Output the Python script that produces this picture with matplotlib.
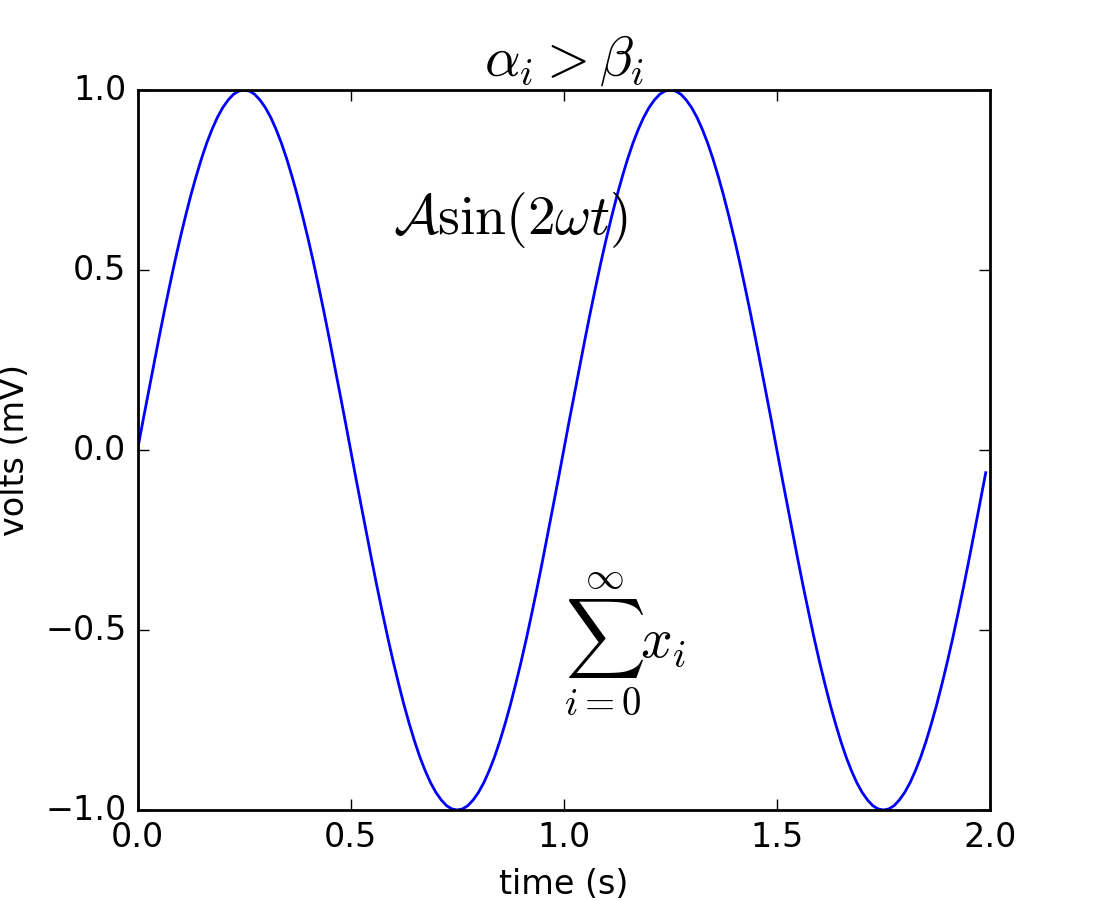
import numpy as np
import matplotlib
matplotlib.use("Agg")
import matplotlib.pyplot as plt

plt.style.use("classic")

# time samples (s) and voltage readings (mV)
time_s = [i * 0.0125 for i in range(160)] + [1.99]
one_period = [
    0.000, 0.079, 0.156, 0.233, 0.309, 0.383, 0.454, 0.523, 0.588, 0.649,
    0.707, 0.760, 0.809, 0.853, 0.891, 0.924, 0.951, 0.972, 0.988, 0.997,
    1.000, 0.997, 0.988, 0.972, 0.951, 0.924, 0.891, 0.853, 0.809, 0.760,
    0.707, 0.649, 0.588, 0.523, 0.454, 0.383, 0.309, 0.233, 0.156, 0.079,
    0.000, -0.079, -0.156, -0.233, -0.309, -0.383, -0.454, -0.523, -0.588, -0.649,
    -0.707, -0.760, -0.809, -0.853, -0.891, -0.924, -0.951, -0.972, -0.988, -0.997,
    -1.000, -0.997, -0.988, -0.972, -0.951, -0.924, -0.891, -0.853, -0.809, -0.760,
    -0.707, -0.649, -0.588, -0.523, -0.454, -0.383, -0.309, -0.233, -0.156, -0.079,
]
volts_mv = one_period + one_period + [-0.063]

title_text = r'$\alpha_i > \beta_i$'
formula_text = r'$\mathcal{A}\mathrm{sin}(2 \omega t)$'
sum_text = r'$\sum_{i=0}^\infty x_i$'

fig, ax = plt.subplots(figsize=(5.5, 4.5), dpi=200)
ax.plot(time_s, volts_mv, color='blue')
ax.text(1, -0.575, sum_text, fontsize=20)
ax.text(0.6, 0.6, formula_text, fontsize=20)
ax.set_xlabel('time (s)')
ax.set_ylabel('volts (mV)')
ax.set_title(title_text, fontsize=20)
ax.set_xlim(0, 2)
ax.set_ylim(-1, 1)
fig.savefig('out.png', dpi=200)
